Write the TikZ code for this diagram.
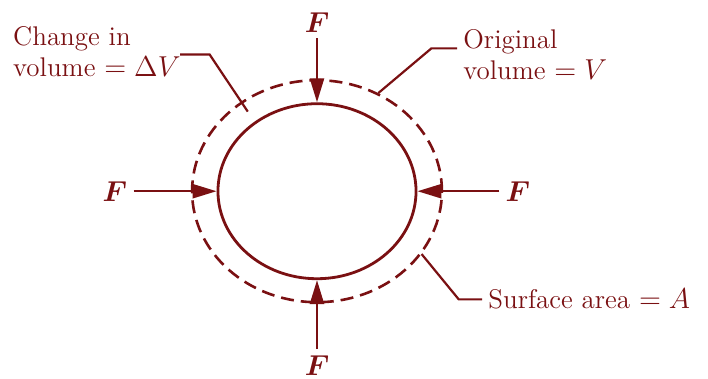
\documentclass[tikz,border=0pt]{standalone}
\usepackage{bm}
\usetikzlibrary{arrows.meta,calc,shapes.geometric}
\definecolor{ink}{RGB}{122,16,18}
\tikzset{
  ring/.style={ellipse,draw=ink,inner sep=0pt},
  force/.style={ink,line width=1.2pt,-{Triangle[length=12pt,width=7pt]}},
  lead/.style={ink,line width=1.1pt},
  flab/.style={text=ink,inner sep=3pt},
  tag/.style={text=ink,inner sep=3pt,align=left}
}
\begin{document}
\begin{tikzpicture}[font=\fontsize{13.5}{15.5}\selectfont]
  \useasboundingbox (-5.57,-3.29) rectangle (6.87,3.36);
  \node[ring,line width=1.4pt,minimum width=3.48cm,minimum height=3.075cm]
    (inner) at (0,0) {};
  \node[ring,line width=1.3pt,dash pattern=on 6.5pt off 3.5pt,
    minimum width=4.39cm,minimum height=3.9cm] (outer) at (0,0) {};
  \node[flab] (Ft) at (0,2.97) {$\bm{F}$};
  \node[flab] (Fl) at (-3.55,0) {$\bm{F}$};
  \node[flab] (Fr) at (3.53,0) {$\bm{F}$};
  \node[flab] (Fb) at (0,-3.06) {$\bm{F}$};
  \draw[force] (Ft) -- (inner.north);
  \draw[force] (Fl) -- (inner.west);
  \draw[force] (Fr) -- (inner.east);
  \draw[force] (Fb) -- (inner.south);
  \node[tag,anchor=north west] (chg) at (-5.45,3.0)
    {Change in\\volume $=\Delta V$};
  \node[tag,anchor=north west] (org) at (2.46,2.96)
    {Original\\volume $=V$};
  \node[tag,anchor=west] (sur) at (2.9,-1.9) {Surface area $=A$};
  \coordinate (dv) at ($(inner.131)!.5!(outer.131)$);
  \draw[lead] ($(chg.south east)+(-0.12,0.51)$) -- ++(0.52,0) -- (dv);
  \draw[lead] ($(org.north west)+(0,-0.45)$) -- ++(-0.45,0) -- (outer.58);
  \draw[lead] (sur.west) -- ++(-0.41,0) -- (outer.-31);
\end{tikzpicture}
\end{document}
